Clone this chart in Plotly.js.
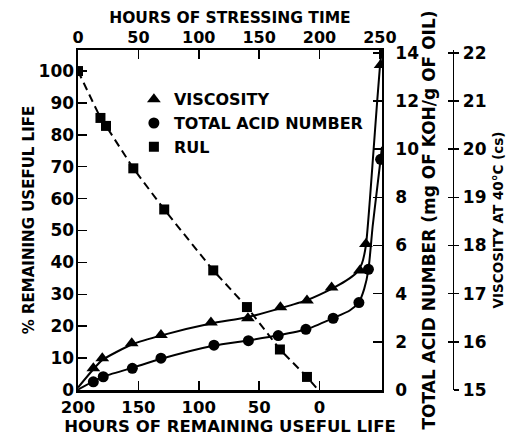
<!DOCTYPE html>
<html>
<head>
<meta charset="utf-8">
<script src="https://cdn.plot.ly/plotly-3.0.1.min.js"></script>
<style>html,body{margin:0;padding:0;background:#fff;}#chart{width:526px;height:436px;}</style>
</head>
<body>
<div id="chart"></div>
<script>
// ---- data (hours of stressing time on x) ----
const viscT   = [12.7, 20.1, 44.5, 68.7, 110.1, 140.7, 167.6, 189.6, 210, 233.4, 238.4, 250.6];
const viscVal = [15.45, 15.66, 15.97, 16.14, 16.40, 16.49, 16.72, 16.86, 17.13, 17.48, 18.03, 21.75];

const tanT   = [12.7, 20.9, 45, 68.7, 112.6, 141.1, 165.8, 188.7, 211.3, 232.6, 240.5, 250.6];
const tanVal = [0.34, 0.55, 0.90, 1.32, 1.86, 2.05, 2.26, 2.52, 2.98, 3.63, 5.01, 9.58];

const rulT   = [0, 18.6, 23.2, 45.8, 71.4, 112, 139.9, 167.2, 189.6];
const rulPct = [100, 85.3, 82.8, 69.5, 56.6, 37.5, 26.0, 12.7, 4.1];

// fitted curves as drawn in the figure
const viscFitT   = [0, 12.7, 20, 45, 70, 110, 140, 168, 190, 210, 222, 230, 235, 238.4, 241.7, 245.8, 250, 251.7];
const viscFitVal = [15.05, 15.43, 15.62, 15.95, 16.14, 16.38, 16.51, 16.70, 16.87, 17.10, 17.27, 17.42, 17.62, 18.0, 18.95, 20.34, 21.71, 22.06];
const tanFitT    = [0, 12.7, 21, 45, 69, 112, 141, 166, 189, 211, 225, 232.6, 237, 240.5, 244, 248, 250.6, 251.7];
const tanFitVal  = [0.02, 0.36, 0.56, 0.92, 1.30, 1.84, 2.06, 2.27, 2.52, 2.98, 3.3, 3.65, 4.2, 5.0, 6.8, 8.5, 9.6, 10.1];
const rulLineT   = [0, 18.6, 23.2, 45.8, 71.4, 112, 139.9, 167.2, 189.6, 199];
const rulLinePct = [100, 85.3, 82.8, 69.5, 56.6, 37.5, 26.0, 12.7, 4.1, 0];

// tick labels
const stressTicks = [0, 50, 100, 150, 200, 250];
const rulHourTicks = [200, 150, 100, 50, 0];
const pctTicks = [0, 10, 20, 30, 40, 50, 60, 70, 80, 90, 100];
const tanTicks = [0, 2, 4, 6, 8, 10, 12, 14];
const viscTicks = [15, 16, 17, 18, 19, 20, 21, 22];

const F = 'DejaVu Sans, Liberation Sans, sans-serif';
const tf = (s) => ({family: F, size: s, color: '#000', weight: 'bold'});
const tickFont = tf(17);

const traces = [
  // invisible anchor trace so the bottom (remaining-life) axis is drawn
  {x: [rulHourTicks[0]], y: [pctTicks[0]], xaxis: 'x', yaxis: 'y', mode: 'markers', marker: {opacity: 0}, showlegend: false, hoverinfo: 'skip'},
  {x: rulLineT, y: rulLinePct, xaxis: 'x2', yaxis: 'y', mode: 'lines', line: {color: '#000', width: 2, dash: '8px,5px'}, showlegend: false, hoverinfo: 'skip'},
  {x: viscFitT, y: viscFitVal, xaxis: 'x2', yaxis: 'y3', mode: 'lines', line: {color: '#000', width: 2, shape: 'spline', smoothing: 0.6}, showlegend: false, hoverinfo: 'skip'},
  {x: tanFitT, y: tanFitVal, xaxis: 'x2', yaxis: 'y2', mode: 'lines', line: {color: '#000', width: 2, shape: 'spline', smoothing: 0.6}, showlegend: false, hoverinfo: 'skip'},
  {x: viscT, y: viscVal, xaxis: 'x2', yaxis: 'y3', mode: 'markers', name: 'VISCOSITY', marker: {symbol: 'triangle-up', size: 12, color: '#000'}},
  {x: tanT, y: tanVal, xaxis: 'x2', yaxis: 'y2', mode: 'markers', name: 'TOTAL ACID NUMBER', marker: {symbol: 'circle', size: 11, color: '#000'}},
  {x: rulT, y: rulPct, xaxis: 'x2', yaxis: 'y', mode: 'markers', name: 'RUL', marker: {symbol: 'square', size: 10, color: '#000'}},
  {x: [stressTicks[0]], y: [viscTicks[0]], xaxis: 'x2', yaxis: 'y4', mode: 'markers', marker: {opacity: 0}, showlegend: false, hoverinfo: 'skip'}
];

const axisCommon = {showgrid: false, zeroline: false, showline: true, linecolor: '#000', tickcolor: '#000', tickfont: tickFont};

const layout = {
  width: 526, height: 436,
  margin: {l: 78, r: 40, t: 50, b: 46},
  paper_bgcolor: '#fff', plot_bgcolor: '#fff',
  showlegend: true,
  legend: {x: 0.137, y: 0.905, xanchor: 'left', yanchor: 'top', bgcolor: 'rgba(0,0,0,0)', font: tf(16)},
  xaxis: Object.assign({}, axisCommon, {
    domain: [0, 0.745], range: [200, -51.7], side: 'bottom', anchor: 'y',
    tickmode: 'array', tickvals: rulHourTicks, ticks: 'inside', ticklen: 9, tickwidth: 1.5, linewidth: 2.5,
    tickfont: tf(16.5), ticklabelstandoff: 1,
    title: {text: 'HOURS OF REMAINING USEFUL LIFE', font: tf(16.5), standoff: 1}
  }),
  xaxis2: Object.assign({}, axisCommon, {
    overlaying: 'x', range: [0, 251.7], side: 'top', anchor: 'y',
    tickmode: 'array', tickvals: stressTicks, ticks: 'inside', ticklen: 9, tickwidth: 1.5, linewidth: 2,
    tickfont: tf(16), ticklabelstandoff: -1,
    title: {text: 'HOURS OF STRESSING TIME', font: tf(15.5), standoff: 0}
  }),
  yaxis: Object.assign({}, axisCommon, {
    range: [0, 106.6], anchor: 'x', side: 'left',
    tickmode: 'array', tickvals: pctTicks, ticks: 'inside', ticklen: 9, tickwidth: 1.5, linewidth: 2.5,
    ticklabelstandoff: -2,
    title: {text: '% REMAINING USEFUL LIFE', font: tf(15), standoff: 1}
  }),
  yaxis2: Object.assign({}, axisCommon, {
    overlaying: 'y', anchor: 'x', side: 'right', range: [0, 14.12],
    tickmode: 'array', tickvals: tanTicks, ticks: 'inside', ticklen: 9, tickwidth: 1.5, linewidth: 2,
    ticklabelstandoff: 8,
    title: {text: 'TOTAL ACID NUMBER (mg OF KOH/g OF OIL)', font: tf(17), standoff: 1}
  }),
  yaxis3: Object.assign({}, axisCommon, {
    overlaying: 'y', anchor: 'free', position: 0.919, side: 'right', range: [15, 22.06],
    tickmode: 'array', tickvals: viscTicks, ticks: 'outside', ticklen: 5, tickwidth: 1.5, linewidth: 1.5,
    tickfont: tf(17),
    title: {text: 'VISCOSITY AT 40°C (cs)', font: tf(13.5), standoff: 8}
  }),
  yaxis4: {
    overlaying: 'y', anchor: 'free', position: 0.919, side: 'right', range: [15, 22.06],
    showgrid: false, zeroline: false, showline: false, tickcolor: '#000',
    tickmode: 'array', tickvals: viscTicks, ticks: 'inside', ticklen: 5, tickwidth: 1.5, showticklabels: false
  }
};

Plotly.newPlot('chart', traces, layout, {displayModeBar: false, staticPlot: true});
</script>
</body>
</html>
